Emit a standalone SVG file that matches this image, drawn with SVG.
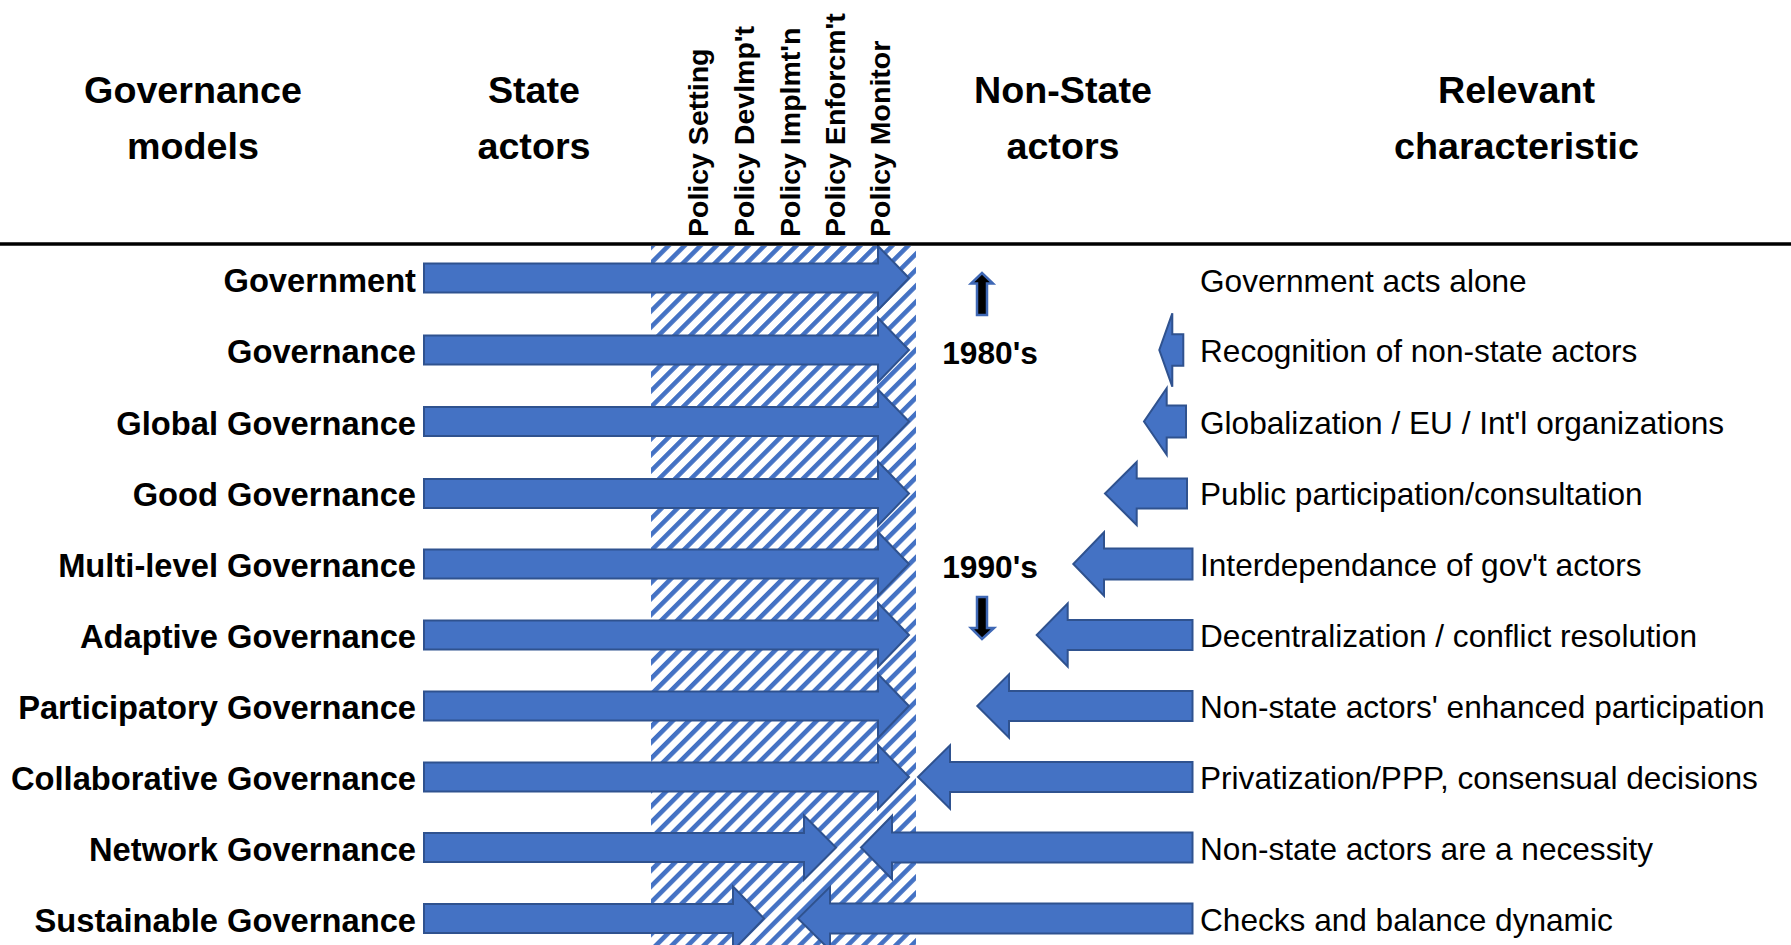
<svg xmlns="http://www.w3.org/2000/svg" width="1791" height="945" viewBox="0 0 1791 945">
<style>
  .hdr { font-family: "Liberation Sans", Arial, sans-serif; font-weight: bold; font-size: 37.7px; fill: #000; text-anchor: middle; }
  .vt { font-family: "Liberation Sans", Arial, sans-serif; font-weight: bold; font-size: 28.5px; fill: #000; }
  .lbl { font-family: "Liberation Sans", Arial, sans-serif; font-weight: bold; font-size: 32.7px; fill: #000; text-anchor: end; }
  .chr { font-family: "Liberation Sans", Arial, sans-serif; font-size: 31.6px; fill: #000; }
  .yr { font-family: "Liberation Sans", Arial, sans-serif; font-weight: bold; font-size: 31.7px; fill: #000; text-anchor: middle; }
  .arw { fill: #4472C4; stroke: #2F528F; stroke-width: 2; stroke-linejoin: miter; }
  .tarw { fill: #000; stroke: #3F68B5; stroke-width: 2.5; }
</style>
<defs>
  <pattern id="hatch" patternUnits="userSpaceOnUse" width="11.3" height="11.3" patternTransform="rotate(45)">
    <rect width="11.3" height="11.3" fill="#fff"/>
    <rect width="4.6" height="11.3" fill="#4472C4"/>
  </pattern>
</defs>
<rect width="1791" height="945" fill="#fff"/>

<!-- hatched policy zone -->
<g id="policy-zone">
  <rect x="651" y="246" width="265" height="699" fill="url(#hatch)"/>
  <line x1="909" y1="777" x2="744" y2="948" stroke="#fff" stroke-width="3.5"/>
</g>

<!-- header -->
<g id="header">
  <text class="hdr" x="193" y="103">Governance</text>
  <text class="hdr" x="193" y="159">models</text>
  <text class="hdr" x="534" y="103">State</text>
  <text class="hdr" x="534" y="159">actors</text>
  <text class="hdr" x="1063" y="103">Non-State</text>
  <text class="hdr" x="1063" y="159">actors</text>
  <text class="hdr" x="1516.5" y="103">Relevant</text>
  <text class="hdr" x="1516.5" y="159">characteristic</text>
  <text class="vt" transform="translate(707.7,237) rotate(-90)">Policy Setting</text>
  <text class="vt" transform="translate(753.5,237) rotate(-90)">Policy Devlmp't</text>
  <text class="vt" transform="translate(799.5,237) rotate(-90)">Policy Implmt'n</text>
  <text class="vt" transform="translate(844.5,237) rotate(-90)">Policy Enforcm't</text>
  <text class="vt" transform="translate(889.7,237) rotate(-90)">Policy Monitor</text>
</g>

<!-- connectors: arrows -->
<g id="connectors">
  <!-- state actor arrows (pointing right) -->
  <path class="arw" d="M424 263.5 H878 V246 L909 278 L878 310 V292.5 H424 Z"/>
  <path class="arw" d="M424 335.5 H878 V318 L909 350 L878 382 V364.5 H424 Z"/>
  <path class="arw" d="M424 407 H878 V389.5 L909 421.5 L878 453.5 V436 H424 Z"/>
  <path class="arw" d="M424 479 H878 V461.5 L909 493.5 L878 525.5 V508 H424 Z"/>
  <path class="arw" d="M424 549.5 H878 V532 L909 564 L878 596 V578.5 H424 Z"/>
  <path class="arw" d="M424 620.5 H878 V603 L909 635 L878 667 V649.5 H424 Z"/>
  <path class="arw" d="M424 691.5 H878 V674 L909 706 L878 738 V720.5 H424 Z"/>
  <path class="arw" d="M424 762.5 H878 V745 L909 777 L878 809 V791.5 H424 Z"/>
  <path class="arw" d="M424 833 H804 V815.5 L836 847.5 L804 879.5 V862 H424 Z"/>
  <path class="arw" d="M424 904 H733 V886.5 L764 918.5 L733 950.5 V933 H424 Z"/>
  <!-- non-state actor arrows (pointing left) -->
  <path class="arw" d="M1183.3 334.2 H1172.3 V313.3 L1159.3 350 L1172.3 386.7 V365.8 H1183.3 Z"/>
  <path class="arw" d="M1186 405.5 H1166.7 V388.2 L1144 421.5 L1166.7 454.8 V437.5 H1186 Z"/>
  <path class="arw" d="M1187 478.5 H1136.7 V462 L1105 493.5 L1136.7 525 V508.5 H1187 Z"/>
  <path class="arw" d="M1192.5 548.5 H1104 V532.3 L1073.3 564 L1104 595.7 V579.5 H1192.5 Z"/>
  <path class="arw" d="M1192.5 620 H1067.7 V603.5 L1036.7 635 L1067.7 666.5 V650 H1192.5 Z"/>
  <path class="arw" d="M1192.5 691 H1009 V674.3 L977.3 706 L1009 737.7 V721 H1192.5 Z"/>
  <path class="arw" d="M1192.5 762 H950 V745.3 L918 777 L950 808.7 V792 H1192.5 Z"/>
  <path class="arw" d="M1192.5 832.5 H892 V815.8 L861 847.5 L892 879.2 V862.5 H1192.5 Z"/>
  <path class="arw" d="M1192.5 903.5 H830 V886.8 L798 918.5 L830 950.2 V933.5 H1192.5 Z"/>
  <!-- timeline arrows -->
  <path class="tarw" d="M977 315 V283.5 H971 L982 273 L993 283.5 H987 V315 Z"/>
  <path class="tarw" d="M977 597 V628 H971 L982 639 L994 628 H987 V597 Z"/>
</g>

<g id="header-rule">
  <line x1="0" y1="244" x2="1791" y2="244" stroke="#000" stroke-width="3.5"/>
</g>

<g id="era-1980s"><text class="yr" x="990" y="364">1980's</text></g>
<g id="era-1990s"><text class="yr" x="990" y="577.5">1990's</text></g>

<g id="row-government">
  <text class="lbl" x="416" y="292">Government</text>
  <text class="chr" x="1200" y="291.5">Government acts alone</text>
</g>
<g id="row-governance">
  <text class="lbl" x="416" y="363">Governance</text>
  <text class="chr" x="1200" y="362">Recognition of non-state actors</text>
</g>
<g id="row-global">
  <text class="lbl" x="416" y="434.5">Global Governance</text>
  <text class="chr" x="1200" y="433.5">Globalization / EU / Int'l organizations</text>
</g>
<g id="row-good">
  <text class="lbl" x="416" y="506">Good Governance</text>
  <text class="chr" x="1200" y="505">Public participation/consultation</text>
</g>
<g id="row-multilevel">
  <text class="lbl" x="416" y="577">Multi-level Governance</text>
  <text class="chr" x="1200" y="576">Interdependance of gov't actors</text>
</g>
<g id="row-adaptive">
  <text class="lbl" x="416" y="648">Adaptive Governance</text>
  <text class="chr" x="1200" y="647">Decentralization / conflict resolution</text>
</g>
<g id="row-participatory">
  <text class="lbl" x="416" y="719">Participatory Governance</text>
  <text class="chr" x="1200" y="718">Non-state actors' enhanced participation</text>
</g>
<g id="row-collaborative">
  <text class="lbl" x="416" y="790">Collaborative Governance</text>
  <text class="chr" x="1200" y="789">Privatization/PPP, consensual decisions</text>
</g>
<g id="row-network">
  <text class="lbl" x="416" y="860.5">Network Governance</text>
  <text class="chr" x="1200" y="860">Non-state actors are a necessity</text>
</g>
<g id="row-sustainable">
  <text class="lbl" x="416" y="931.5">Sustainable Governance</text>
  <text class="chr" x="1200" y="930.5">Checks and balance dynamic</text>
</g>
</svg>
